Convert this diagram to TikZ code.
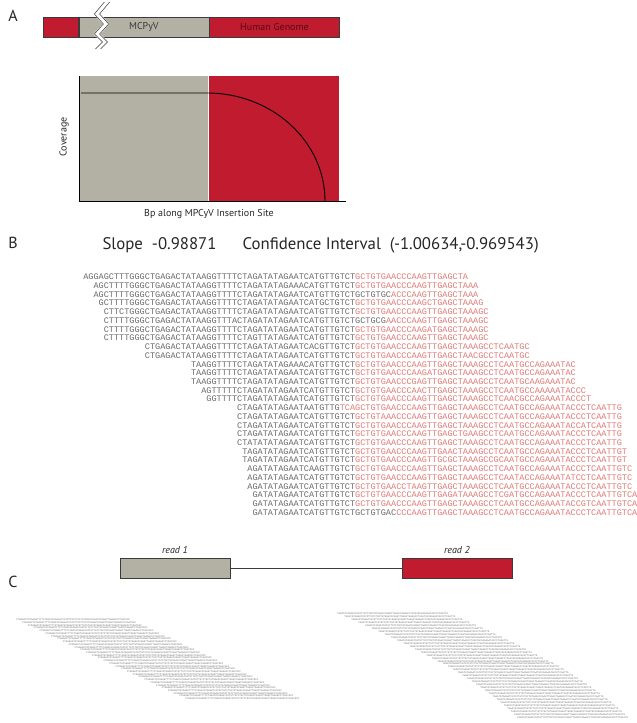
\documentclass[tikz,border=0pt]{standalone}
\usepackage{fontspec}
\setmainfont{PT Sans}
\setmonofont{Liberation Mono}
\usepackage{xcolor}
\usepackage{tikz}
\usetikzlibrary{positioning}
\definecolor{genomered}{HTML}{C01B2E}
\definecolor{virusgray}{HTML}{B3B1A3}
\definecolor{seqgray}{HTML}{6A6A6A}
\definecolor{seqred}{HTML}{E07A76}
\definecolor{edge}{HTML}{3A3A3A}
\tikzstyle{segment}=[rectangle, draw=edge, line width=0.6pt, minimum height=20pt, inner sep=0pt, anchor=west]
\tikzstyle{area}=[rectangle, inner sep=0pt, minimum height=125pt]
\tikzstyle{panel}=[font=\fontsize{16}{16}\selectfont, text=black!85]
\tikzstyle{axislabel}=[font=\fontsize{10}{10}\selectfont, text=black!85]
\tikzstyle{stat}=[anchor=west, font=\fontsize{16.8}{17}\selectfont, text=black!85]
\tikzstyle{readbox}=[rectangle, draw=edge, line width=0.8pt, minimum width=110pt, minimum height=20pt, inner sep=0pt]
\tikzstyle{readlabel}=[font=\itshape\fontsize{10}{10}\selectfont, text=black!85, inner sep=0pt]
\tikzstyle{seq}=[inner sep=0pt, anchor=west, font=\ttfamily\fontsize{8.55}{9}\selectfont]
\tikzstyle{tiny}=[inner sep=0pt, anchor=west, text=seqgray, font=\ttfamily\fontsize{2.5}{2.6}\selectfont]

\begin{document}
\begin{tikzpicture}[x=1pt, y=-1pt]
\useasboundingbox (0,0) rectangle (637,723);

\node (PanelA) [panel] at (13,16) {A};
\node (HostLeft) [segment, fill=genomered, minimum width=35pt] at (43,27) {};
\node (Virus) [segment, fill=virusgray, minimum width=130pt, right=0pt of HostLeft,
  font=\fontsize{10}{10}\selectfont, text=edge] {MCPyV};
\node (Host) [segment, fill=genomered, minimum width=130pt, right=0pt of Virus,
  font=\fontsize{10}{10}\selectfont, text=genomered!45!black] {Human Genome};
\draw[white, line width=5pt] (107,2) -- (97,14) -- (106,24) -- (97,34) -- (105,42) -- (98,49);
\foreach \s in {-2.6,2.6}
  \draw[edge, line width=0.5pt, xshift=\s pt] (107,2) -- (97,14) -- (106,24) -- (97,34) -- (105,42) -- (98,49);

\node (CovVirus) [area, fill=virusgray, minimum width=129pt, anchor=north west] at (79,76) {};
\node (CovHost) [area, fill=genomered, minimum width=130pt, right=0pt of CovVirus] {};
\draw[line width=0.8pt] (CovVirus.north west) -- (CovVirus.south west) -- ++(267,0);
\draw[line width=0.9pt] (81,93) -- (207,93) arc[start angle=90, end angle=0, x radius=118pt, y radius=108pt];
\node (CovLabel) [axislabel, rotate=90] at (64,137) {Coverage};
\node (BpLabel) [axislabel] at (209,214) {Bp along MPCyV Insertion Site};

\node (PanelB) [panel] at (13,243) {B};
\node (Slope) [stat] at (99,245) {Slope\ \ -0.98871};
\node (Interval) [stat] at (239,245) {Confidence Interval\ \ (-1.00634,-0.969543)};

\foreach \c/\g/\r [count=\i] in {
  -53/AGGAGCTTTGGGCTGAGACTATAAGGTTTTCTAGATATAGAATCATGTTGTCT/GCTGTGAACCCAAGTTGAGCTA,
  -51/AGCTTTTGGGCTGAGACTATAAGGTTTTCTAGATATAGAAACATGTTGTCT/GCTGTGAACCCAAGTTGAGCTAAA,
  -51/AGCTTTTGGGCTGAGACTATAAGGTTTTCTAGATATAGAATCATGTTGTCTGCTGTGC/ACCCAAGTTGAGCTAAA,
  -50/GCTTTTGGGCTGAGACTATAAGGTTTTCTAGATATAGAATCATGCTGTCT/GCTGTGAACCCAAGCTGAGCTAAAG,
  -49/CTTCTGGGCTGAGACTATAAGGTTTTCTAGATATAGAATCATGTTGTCT/GCTGTGAACCCAAGTTGAGCTAAAGC,
  -49/CTTTTGGGCTGAGACTATAAGGTTTACTAGATATAGAATCATGTTGTCTGCTGCG/AACCCAAGTTGAGCTAAAGC,
  -49/CTTTTGGGCTGAGACTATAAGGTTTTCTAGATATAGAATCATGTTGTCT/GCTGTGAACCCAAGATGAGCTAAAGC,
  -49/CTTTTGGGCTGAGACTATAAGGTTTTCTAGTTATAGAATCATGTTGTCT/GCTGTGAACCCAAGTTGAGCTAAAGC,
  -41/CTGAGACTATAAGGTTTTCTAGATATAGAATCACGTTGTCT/GCTGTGAACCCAAGTTGAGCTAAAGCCTCAATGC,
  -41/CTGAGACTATAAGGTTTTCTAGATATAGAATCATGTTGTCT/GCTGTGAACCCAAGTTGAGCTAACGCCTCAATGC,
  -32/TAAGGTTTTCTAGATATAGAAACATGTTGTCT/GCTGTGAACCCAAGTTGAGCTAAAGCCTCAATGCCAGAAATAC,
  -32/TAAGGTTTTCTAGATATAGAATCATGTTGTCT/GCTGTGAACCCAAGATGAGCTAAAGCCTCAATGCCAGAAATAC,
  -32/TAAGGTTTTCTAGATATAGAATCATGTTGTCT/GCTGTGAACCCGAGTTGAGCTAAAGCCTCAATGCAAGAAATAC,
  -30/AGTTTTTCTAGATATAGAATCATGTTGTCT/GCTGTGAACCCAACTTGAGCTAAAGCCTCAATGCCAAAAATACCC,
  -29/GGTTTTCTAGATATAGAATCATGTTGTCT/GCTGTGAACCCAAGTTGAGCTAAAGCCTCAACGCCAGAAATACCCT,
  -23/CTAGATATAGAATAATGTTG/TCAGCTGTGAACCCAAGTTGAGCTAAAGCCTCAATGCCAGAAATACCCTCAATTG,
  -23/CTAGATATAGAATCATGTTGTCT/GCTGTAAACCCAAGTTGAGCTAAAGCCTCAATGCCAGAAATACCCTCAATTG,
  -23/CTAGATATAGAATCATGTTGTCT/GCTGTGAACCCAAGTTGAGCTAAAGCCTCAATGCCAGAAATACCATCAATTG,
  -23/CTAGATATAGAATCATGTTGTCT/GCTGTGAACCCAAGTTGAGCTGAAGCCTCAATGCCAGAAATACCCTCAATTG,
  -23/CTATATATAGAATCATGTTGTCT/GCTGTGAACCCAAGTTGAGCTAAAGCCTCAATGCCAGAAATACCCTCAATTG,
  -22/TAGATATAGAATCATGTTGTCT/GCTGTGAACCCAAGTTGAACTAAAGCCTCAATGCCAGAAATACCCTCAATTGT,
  -22/TAGATATAGAATCATGTTGTCT/GCTGTGAACCCAAGTTGCGCTAAAGCCGCAATGCCAGAAATACCCTCAATTGT,
  -21/AGATATAGAATCAAGTTGTCT/GCTGTGAACCCAAGTTGAGCTAAAGCCTCAATGCCAGAAATACCCTCAATTGTC,
  -21/AGATATAGAATCATGTTGTCT/GCTGTGAACCCAAGTTGAGCTAAAGCCTCAATACCAGAAATATCCTCAATTGTC,
  -21/AGATATAGAATCATGTTGTCT/GCTGTGAACCTAAGTTGAGCTAAAGCCTCAATGCCAGAAATACCCTCAATTGTC,
  -20/GATATAGAATCATGTTGTCT/GCTGTGAACCCAAGTTGAGATAAAGCCTCGATGCCAGAAATACCCTCAATTGTCA,
  -20/GATATAGAATCATGTTGTCT/GCTGTGAACCCAAGTTGAGCTAAAGCCTCAATGCCAGAAATACCGTCAATTGTCA,
  -20/GATATAGAATCATGTTGTCTGCTGTGAC/CCCAAGTTGAGCTAAAGCCTCAATGCCAGAAATACCCTCAATTGTCA}
  \node (Row\i) [seq] at ({355+\c*5.13}, {277+(\i-1)*8.72}) {\textcolor{seqgray}{\g}\textcolor{seqred}{\r}};

\node (PanelC) [panel] at (13,582) {C};
\node (Read1) [readbox, fill=virusgray] at (175,568) {};
\node (Read2) [readbox, fill=genomered] at (457,568) {};
\draw[edge, line width=0.6pt] (Read1) -- (Read2);
\node (Read1Label) [readlabel, above=4pt of Read1] {read 1};
\node (Read2Label) [readlabel, above=4pt of Read2] {read 2};

\foreach \i in {0,...,29}
  \node (ReadA\i) [tiny] at ({16+5.83*\i}, {620+2.72*\i}) {CTGAGACTATAAGGTTTTCTAGATATAGAATCATGTTGTCTGCTGTGAACCCAAGTTGAGCTAAAGCCTCAATGCC};
\foreach \i in {0,...,35}
  \node (ReadB\i) [tiny] at ({337+180*(\i/35+0.4*(\i/35)*(1-\i/35))}, {614+2.95*\i}) {TAGATATAGAATCATGTTGTCTGCTGTGAACCCAAGTTGAGCTAAAGCCTCAATGCCAGAAATACCCTCAATTG};
\end{tikzpicture}
\end{document}
